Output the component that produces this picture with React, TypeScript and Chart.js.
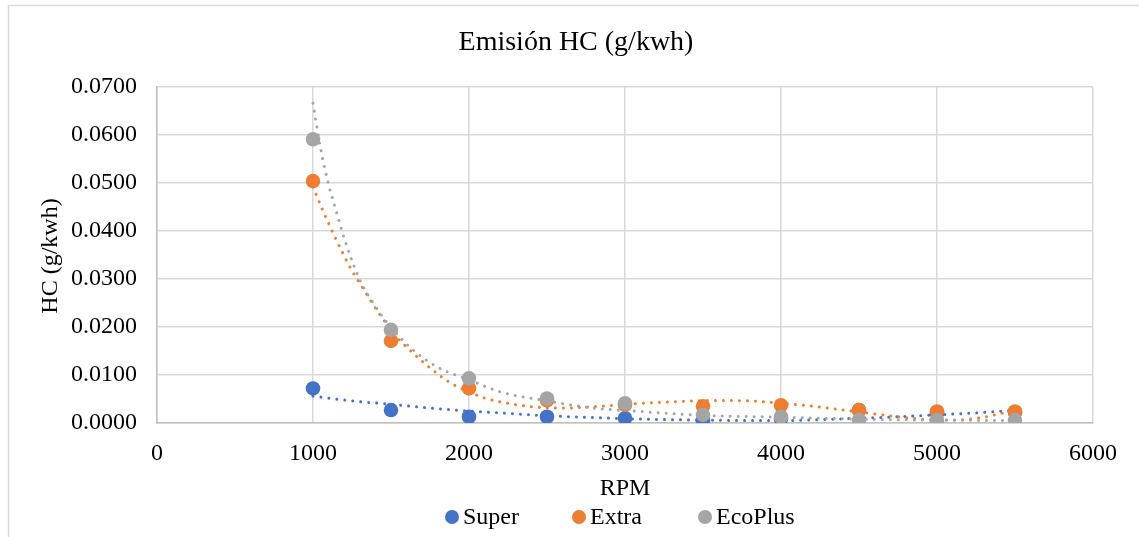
import React, { useEffect, useRef } from "react";
import { Chart, registerables } from "chart.js";

Chart.register(...registerables);

// Engine speed (RPM) for each measurement
const rpm = [1000, 1500, 2000, 2500, 3000, 3500, 4000, 4500, 5000, 5500];

// HC emission (g/kWh) per fuel
const superHC = [0.0072, 0.0027, 0.0013, 0.0013, 0.001, 0.0005, 0.0009, 0.0027, 0.002, 0.0022];
const extraHC = [0.0504, 0.0171, 0.0072, 0.0047, 0.0038, 0.0035, 0.0037, 0.0027, 0.0024, 0.0024];
const ecoPlusHC = [0.0591, 0.0194, 0.0093, 0.0051, 0.0041, 0.0017, 0.0013, 0.0006, 0.0006, 0.0006];

// Trend curves (sampled along the fitted lines)
const superTrendX = [1000, 1250, 1500, 1750, 2000, 2250, 2500, 2750, 3000, 3500, 4000, 4250, 4500, 4750, 5000, 5250, 5500];
const superTrendY = [0.0056, 0.0046, 0.0039, 0.0031, 0.0025, 0.002, 0.0015, 0.0012, 0.0009, 0.0006, 0.0005, 0.0007, 0.001, 0.0013, 0.0017, 0.0021, 0.0027];

const extraTrendX = [1000, 1060, 1100, 1150, 1200, 1250, 1300, 1350, 1430, 1530, 1640, 1800, 1900, 2000, 2100, 2250, 2400, 2600, 2800, 3050, 3300, 3550, 3800, 4000, 4200, 4350, 4600, 4750, 4900, 5100, 5200, 5300, 5400, 5500];
const extraTrendY = [0.0492, 0.0445, 0.0416, 0.0381, 0.0348, 0.0317, 0.0291, 0.0265, 0.0225, 0.0182, 0.0146, 0.0102, 0.008, 0.0065, 0.0052, 0.0041, 0.0034, 0.0031, 0.0034, 0.004, 0.0044, 0.0047, 0.0046, 0.0041, 0.0035, 0.0029, 0.0019, 0.0013, 0.0008, 0.0006, 0.0008, 0.0012, 0.0019, 0.0025];

const ecoPlusTrendX = [1000, 1050, 1100, 1150, 1200, 1300, 1400, 1500, 1650, 1800, 2000, 2200, 2500, 2800, 3100, 3500, 4000, 4500, 5000, 5500];
const ecoPlusTrendY = [0.0666, 0.057, 0.0497, 0.044, 0.0385, 0.0298, 0.0243, 0.0199, 0.015, 0.0116, 0.009, 0.0065, 0.0046, 0.0031, 0.0024, 0.0016, 0.0012, 0.0008, 0.0006, 0.0005];

const seriesNames = ["Super", "Extra", "EcoPlus"];
const seriesColors = ["#4472C4", "#ED7D31", "#A5A5A5"];

const chartTitle = "Emisión HC (g/kwh)";
const xTitle = "RPM";
const yTitle = "HC (g/kwh)";

const FONT = "'Liberation Serif', 'Times New Roman', serif";

const pts = (xs: number[], ys: number[]) => xs.map((x, i) => ({ x, y: ys[i] }));

// Draws the frame, titles and legend around the plot
const decorPlugin = {
  id: "decor",
  beforeDraw(chart: any) {
    const { ctx, width, height } = chart;
    ctx.save();
    ctx.fillStyle = "#ffffff";
    ctx.fillRect(0, 0, width, height);
    ctx.strokeStyle = "#d9d9d9";
    ctx.lineWidth = 1.5;
    ctx.strokeRect(8.5, 5.5, width + 20, height + 20);
    ctx.restore();
  },
  afterDraw(chart: any) {
    const { ctx, chartArea } = chart;
    const cx = (chartArea.left + chartArea.right) / 2;
    ctx.save();
    ctx.fillStyle = "#000000";
    ctx.textAlign = "center";
    ctx.textBaseline = "middle";
    ctx.font = `28px ${FONT}`;
    ctx.fillText(chartTitle, 576, 43);

    ctx.font = `24px ${FONT}`;
    ctx.fillText(xTitle, cx, 489);

    ctx.save();
    ctx.translate(51, 256);
    ctx.rotate(-Math.PI / 2);
    ctx.fillText(yTitle, 0, 0);
    ctx.restore();

    // legend
    const itemX = [452, 579, 705];
    const ly = 517;
    ctx.textAlign = "left";
    seriesNames.forEach((name, i) => {
      ctx.beginPath();
      ctx.arc(itemX[i], ly, 7, 0, Math.PI * 2);
      ctx.fillStyle = seriesColors[i];
      ctx.fill();
      ctx.fillStyle = "#000000";
      ctx.fillText(name, itemX[i] + 11, ly + 1);
    });
    ctx.restore();
  },
};

export default function App() {
  const canvasRef = useRef<HTMLCanvasElement | null>(null);

  useEffect(() => {
    document.body.style.margin = "0";
    const canvas = canvasRef.current;
    if (!canvas) return;

    const trend = (xs: number[], ys: number[], color: string, order: number) => ({
      type: "line" as const,
      data: pts(xs, ys),
      showLine: true,
      borderColor: color,
      borderWidth: 3,
      borderDash: [0.01, 8],
      borderCapStyle: "round" as const,
      cubicInterpolationMode: "monotone" as const,
      pointRadius: 0,
      fill: false,
      order,
    });

    const marks = (ys: number[], i: number, order: number) => ({
      type: "scatter" as const,
      label: seriesNames[i],
      data: pts(rpm, ys),
      backgroundColor: seriesColors[i],
      borderColor: seriesColors[i],
      borderWidth: 0,
      pointRadius: 7.3,
      order,
    });

    const chart = new Chart(canvas, {
      type: "scatter",
      data: {
        datasets: [
          marks(superHC, 0, 3),
          marks(extraHC, 1, 2),
          marks(ecoPlusHC, 2, 1),
          trend(superTrendX, superTrendY, seriesColors[0], 6),
          trend(extraTrendX, extraTrendY, seriesColors[1], 5),
          trend(ecoPlusTrendX, ecoPlusTrendY, seriesColors[2], 4),
        ] as any,
      },
      options: {
        animation: false,
        responsive: false,
        devicePixelRatio: 1,
        layout: { padding: { top: 87, right: 46, bottom: 0, left: 0 } },
        plugins: {
          legend: { display: false },
          title: { display: false },
          tooltip: { enabled: false },
        },
        scales: {
          x: {
            type: "linear",
            min: 0,
            max: 6000,
            ticks: {
              stepSize: 1000,
              padding: 16,
              color: "#000000",
              font: { family: FONT, size: 24 },
              maxRotation: 0,
              callback: (v: any) => String(v),
            },
            grid: { color: "#d9d9d9", lineWidth: 1.5, drawTicks: false },
            border: { color: "#bfbfbf", width: 1.5 },
            afterFit: (scale: any) => {
              scale.height = 114;
            },
          },
          y: {
            type: "linear",
            min: 0,
            max: 0.07,
            ticks: {
              stepSize: 0.01,
              padding: 20,
              color: "#000000",
              font: { family: FONT, size: 24 },
              callback: (v: any) => Number(v).toFixed(4),
            },
            grid: { color: "#d9d9d9", lineWidth: 1.5, drawTicks: false },
            border: { color: "#bfbfbf", width: 1.5 },
            afterFit: (scale: any) => {
              scale.width = 157;
            },
          },
        },
      },
      plugins: [decorPlugin],
    });

    return () => chart.destroy();
  }, []);

  return <canvas ref={canvasRef} width={1139} height={537} style={{ display: "block", width: 1139, height: 537 }} />;
}
